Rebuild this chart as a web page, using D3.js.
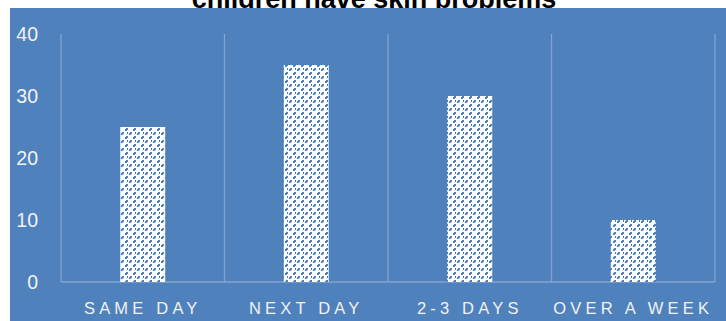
<!DOCTYPE html>
<html><head><meta charset="utf-8">
<script src="https://cdn.jsdelivr.net/npm/d3@7"></script>
<style>body{margin:0;background:#fff}svg{display:block}</style>
</head><body><svg id="c" width="726" height="321"></svg>
<script>
const categories = ["SAME DAY", "NEXT DAY", "2-3 DAYS", "OVER A WEEK"];
const values = [25, 35, 30, 10];
const yTicks = [0, 10, 20, 30, 40];
const title = "children have skin problems";

const svg = d3.select("#c");
const W = 726, H = 321;
const m = {left: 61, right: 11, top: 34, bottom: 39};
const bg = "#4f81bd";

svg.append("text").attr("x", 374).attr("y", 8).attr("text-anchor", "middle")
  .attr("font-family", "Liberation Sans, Arial, sans-serif").attr("font-weight", "bold")
  .attr("font-size", 27).attr("fill", "#000").text(title);

svg.append("rect").attr("x", 10).attr("y", 8).attr("width", W - 10).attr("height", H - 8).attr("fill", bg);

const defs = svg.append("defs");
const pat = defs.append("pattern").attr("id", "pt").attr("patternUnits", "userSpaceOnUse")
  .attr("width", 8).attr("height", 8);
pat.append("rect").attr("width", 8).attr("height", 8).attr("fill", "#fff");
[[6,0],[5,1],[2,4],[1,5],[7,4]].forEach(([px,py]) =>
  pat.append("rect").attr("x", px).attr("y", py).attr("width", 2).attr("height", 2).attr("fill", bg));

const x = d3.scaleBand().domain(categories).range([m.left, W - m.right]).paddingInner(0).paddingOuter(0);
const y = d3.scaleLinear().domain([0, 40]).range([H - m.bottom, m.top]);

const grid = "#83a3d1";
const bounds = categories.map(c => x(c)).concat([x(categories[categories.length-1]) + x.bandwidth()]);
svg.append("g").selectAll("line").data(bounds).join("line")
  .attr("x1", d => d).attr("x2", d => d).attr("y1", y(40)).attr("y2", y(0))
  .attr("stroke", grid).attr("stroke-width", 1.3);
svg.append("line").attr("x1", m.left).attr("x2", W - m.right).attr("y1", y(0)).attr("y2", y(0))
  .attr("stroke", grid).attr("stroke-width", 1.3);

const bw = x.bandwidth() * 0.275;
svg.append("g").selectAll("rect").data(values).join("rect")
  .attr("x", (d, i) => x(categories[i]) + x.bandwidth() / 2 - bw / 2)
  .attr("width", bw)
  .attr("y", d => y(d)).attr("height", d => y(0) - y(d))
  .attr("fill", "url(#pt)");

const yAxis = d3.axisLeft(y).tickValues(yTicks).tickSize(0).tickPadding(0);
const ga = svg.append("g").attr("transform", "translate(38,0)").call(yAxis);
ga.select(".domain").remove();
ga.selectAll("text").attr("font-family", "Liberation Sans, Arial, sans-serif").attr("font-size", 19.5)
  .attr("fill", "#f2f2f2").attr("dy", "0.35em");

const xAxis = d3.axisBottom(x).tickSize(0).tickPadding(0);
const gx = svg.append("g").attr("transform", `translate(0,${y(0)})`).call(xAxis);
gx.select(".domain").remove();
gx.selectAll("text").attr("font-family", "Liberation Sans, Arial, sans-serif").attr("font-size", 16.5)
  .attr("fill", "#f2f2f2").attr("letter-spacing", "4.2px").attr("dy", null).attr("y", 32);
</script></body></html>
